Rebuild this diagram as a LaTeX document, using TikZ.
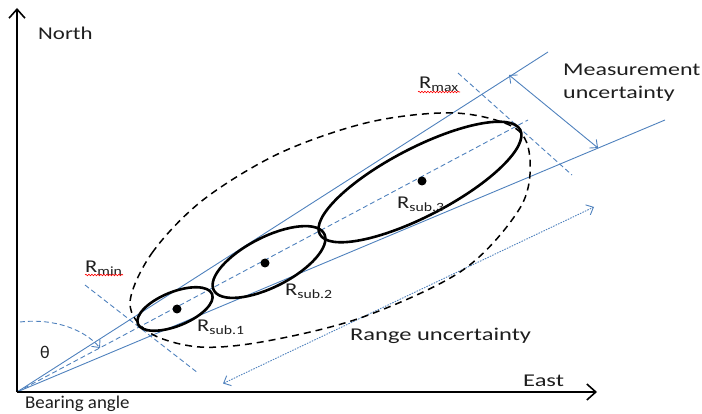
\documentclass[tikz,border=0pt]{standalone}
\usepackage{fontspec}
\setmainfont{Carlito}
\usetikzlibrary{arrows.meta,decorations.pathmorphing}
\definecolor{ublue}{RGB}{79,129,189}
\definecolor{txt}{RGB}{30,30,30}
\newcommand{\hs}[2]{\scalebox{#1}[1]{#2}}
\begin{document}
\begin{tikzpicture}[x=1pt,y=-1pt,
  axis/.style={line width=2.4pt,black,-{Straight Barb[length=9pt,width=16pt,line width=1.6pt]}},
  bline/.style={ublue,line width=0.9pt},
  bdash/.style={ublue,line width=0.9pt,dash pattern=on 5pt off 3pt},
  bdot/.style={ublue,line width=0.9pt,dash pattern=on 1.5pt off 1.2pt},
  sub/.style={black,line width=2.6pt},
  big/.style={black,line width=1.5pt,dash pattern=on 7pt off 5pt},
  lab/.style={font=\fontsize{18}{23}\selectfont,text=txt,inner sep=0pt},
  opentip/.style={-{Straight Barb[length=6pt,width=11pt,line width=0.9pt]}},
  squig/.style={red,line width=0.6pt,decorate,decoration={snake,amplitude=0.8pt,segment length=3pt}}
]
\useasboundingbox (0,0) rectangle (702,414);
% key points
\coordinate (O) at (17,392);
\coordinate (Ntip) at (17,8);
\coordinate (Etip) at (597,392);
\coordinate (U) at (548,52);
\coordinate (L) at (665,120);
\coordinate (C) at (528,120);
\coordinate (rmaxA) at (458,73);
\coordinate (rmaxB) at (572,175);
\coordinate (rminA) at (85,285);
\coordinate (rminB) at (198,373);
\coordinate (muA) at (509,75);
\coordinate (muB) at (598,148);
\coordinate (ruA) at (222,384);
\coordinate (ruB) at (594,207);
\coordinate (thA) at (20,322);
\coordinate (thB) at (100,348);
\coordinate (c1) at (175,309);
\coordinate (c2) at (269,262);
\coordinate (c3) at (420,182);

% bearing lines
\draw[bline] (O) -- (U);
\draw[bline] (O) -- (L);
\draw[bdash] (O) -- (C);
\draw[bdash] (rmaxA) -- (rmaxB);
\draw[bdash] (rminA) -- (rminB);

% uncertainty arrows
\draw[bline,{Straight Barb[length=6pt,width=11pt,line width=0.9pt]}-{Straight Barb[length=6pt,width=11pt,line width=0.9pt]}] (muA) -- (muB);
\draw[bdot,{Straight Barb[length=6pt,width=11pt,line width=0.9pt,sep]}-{Straight Barb[length=6pt,width=11pt,line width=0.9pt]}] (ruA) -- (ruB);
\draw[bdash,opentip] (thA) .. controls (55,318) and (85,330) .. (thB);

% big dashed uncertainty region
\draw[big] plot[smooth cycle,tension=0.55] coordinates {
  (130,303) (152,253) (203,200) (280,153) (370,122) (455,113)
  (515,128) (530,160) (520,208) (463,270) (363,317) (267,341)
  (200,347) (150,333)};
% sub ellipses
\draw[sub,rotate around={22:(c1)}] (c1) ellipse [x radius=40pt, y radius=17pt];
\draw[sub,rotate around={27:(c2)}] (c2) ellipse [x radius=62pt, y radius=25pt];
\draw[sub,rotate around={27.5:(c3)}] (c3) ellipse [x radius=113pt, y radius=34pt];
\fill (177,309) circle [radius=4.5pt];
\fill (265,263) circle [radius=4.5pt];
\fill (422,181) circle [radius=4.5pt];

% axes
\draw[axis] (O) -- (Ntip);
\draw[axis] (O) -- (Etip);

% labels
\node[lab,anchor=west] (north) at (38,33) {\hs{1.27}{North}};
\node[lab,anchor=west] (east) at (523,381) {\hs{1.36}{East}};
\node[lab,anchor=west] (bear) at (25,404) {\hs{1.05}{Bearing angle}};
\node[lab,anchor=center] (theta) at (45,352) {θ};
\node[lab,anchor=west] (range) at (350,336) {\hs{1.36}{Range uncertainty}};
\node[lab,anchor=west] (meas) at (563,82) {\hs{1.33}{\begin{tabular}{@{}l@{}}Measurement\\uncertainty\end{tabular}}};
\node[lab,anchor=west] (rmax) at (419,84) {\hs{1.25}{R\textsubscript{max}}};
\node[lab,anchor=west] (rmin) at (85,268) {\hs{1.25}{R\textsubscript{min}}};
\node[lab,anchor=west] (rs1) at (197,327) {\hs{1.25}{R\textsubscript{sub.1}}};
\node[lab,anchor=west] (rs2) at (285,291) {\hs{1.25}{R\textsubscript{sub.2}}};
\node[lab,anchor=west] (rs3) at (397,204) {\hs{1.25}{R\textsubscript{sub.3}}};
\draw[squig] (418,92) -- (460,92);
\draw[squig] (85,275) -- (123,275);
\end{tikzpicture}
\end{document}
